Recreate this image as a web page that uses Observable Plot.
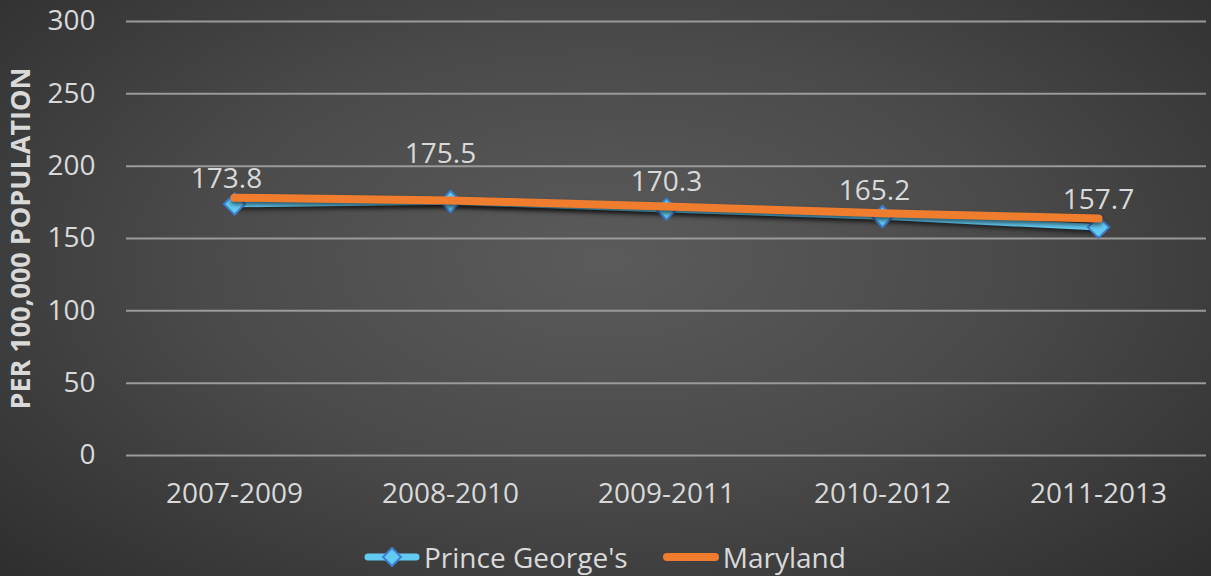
<!DOCTYPE html>
<html>
<head>
<meta charset="utf-8">
<script src="https://cdn.jsdelivr.net/npm/d3@7"></script>
<script src="https://cdn.jsdelivr.net/npm/@observablehq/plot@0.6"></script>
<style>
  html, body { margin: 0; padding: 0; }
  #chart {
    width: 1211px; height: 576px; position: relative; overflow: hidden;
    background: radial-gradient(ellipse 75% 85% at 50% 45%, #5b5b5b 0%, #4a4a4a 45%, #2a2a2a 100%);
    font-family: "Open Sans", sans-serif; color: #d9d9d9;
  }
  #chart svg { display: block; background: transparent; }
  .series-line path { filter: drop-shadow(0px 3px 2px rgba(0,0,0,0.55)); }
  .legend { position: absolute; left: 364px; top: 538px; display: flex; gap: 35px; font-size: 28px; }
  .legend .item { display: flex; align-items: center; gap: 4px; }
  .legend svg { overflow: visible; }
</style>
</head>
<body>
<div id="chart"></div>
<script>
const periods = ["2007-2009", "2008-2010", "2009-2011", "2010-2012", "2011-2013"];
const princeGeorges = [173.8, 175.5, 170.3, 165.2, 157.7];
const maryland = [178.2, 176.3, 172.2, 167.5, 163.8];
const yTicks = [0, 50, 100, 150, 200, 250, 300];
const seriesNames = ["Prince George's", "Maryland"];
const yTitle = "PER 100,000 POPULATION";
const colors = { pg: "#63cbf3", pgEdge: "#3d7fcf", md: "#f07d2e" };

const pgRows = periods.map((p, i) => ({ period: p, value: princeGeorges[i], i }));
const mdRows = periods.map((p, i) => ({ period: p, value: maryland[i], i }));

const textColor = "#d9d9d9";
const labelStyle = { x: "period", y: "value", text: d => d.value.toFixed(1), fill: textColor, fontSize: 28 };

const plot = Plot.plot({
  width: 1211,
  height: 530,
  marginLeft: 126,
  marginRight: 5,
  marginTop: 21,
  marginBottom: 75,
  style: { background: "transparent", color: textColor, fontFamily: "'Open Sans', sans-serif", fontSize: "28px" },
  x: { type: "point", domain: periods, padding: 0.5, label: null },
  y: { domain: [0, 300], label: null },
  marks: [
    Plot.gridY(yTicks, { stroke: "#9a9a9a", strokeOpacity: 1, strokeWidth: 2 }),
    Plot.axisY(yTicks, { tickSize: 0, tickPadding: 31, fontSize: 28, fill: textColor, label: null }),
    Plot.axisX({ tickSize: 0, tickPadding: 28, fontSize: 28, fill: textColor, label: null }),
    Plot.line(pgRows, { x: "period", y: "value", stroke: colors.pg, strokeWidth: 6.5, className: "series-line" }),
    Plot.dot(pgRows, { x: "period", y: "value", symbol: "diamond2", r: 9.5, fill: colors.pg, stroke: colors.pgEdge, strokeWidth: 2 }),
    Plot.line(mdRows, { x: "period", y: "value", stroke: colors.md, strokeWidth: 8, strokeLinecap: "round", className: "series-line" }),
    // value labels above the Prince George's points
    Plot.text(pgRows.filter(d => d.i === 0 || d.i === 3), { ...labelStyle, dy: -25, dx: -8 }),
    Plot.text(pgRows.filter(d => d.i === 2 || d.i === 4), { ...labelStyle, dy: -27 }),
    Plot.text(pgRows.filter(d => d.i === 1), { ...labelStyle, dy: -48, dx: -10 }),
    Plot.text([yTitle], { frameAnchor: "left", textAnchor: "middle", dx: -105, rotate: -90, fontWeight: "bold", fontSize: 27, fill: textColor, text: d => d })
  ]
});

const chart = document.getElementById("chart");
chart.appendChild(plot);

// legend row below the plot
const legend = document.createElement("div");
legend.className = "legend";
legend.innerHTML = `
  <div class="item">
    <svg width="56" height="16"><line x1="4" y1="8" x2="52" y2="8" stroke="${colors.pg}" stroke-width="7" stroke-linecap="round"/>
      <path d="M28,-1 L37,8 L28,17 L19,8 Z" fill="${colors.pg}" stroke="${colors.pgEdge}" stroke-width="2"/></svg>
    <span>${seriesNames[0]}</span>
  </div>
  <div class="item">
    <svg width="56" height="16"><line x1="4" y1="8" x2="52" y2="8" stroke="${colors.md}" stroke-width="8" stroke-linecap="round"/></svg>
    <span>${seriesNames[1]}</span>
  </div>`;
chart.appendChild(legend);
</script>
</body>
</html>
